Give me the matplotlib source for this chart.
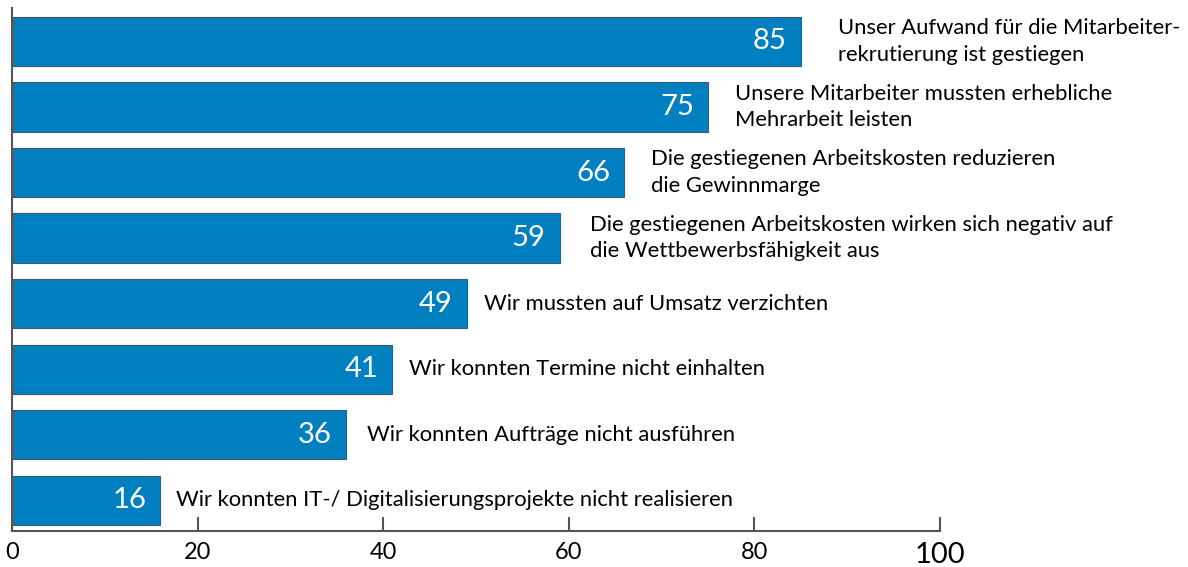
import matplotlib
matplotlib.use('Agg')
import matplotlib.pyplot as plt

# --- data ---
values = [85, 75, 66, 59, 49, 41, 36, 16]
labels = [
    'Unser Aufwand für die Mitarbeiter-\nrekrutierung ist gestiegen',
    'Unsere Mitarbeiter mussten erhebliche\nMehrarbeit leisten',
    'Die gestiegenen Arbeitskosten reduzieren\ndie Gewinnmarge',
    'Die gestiegenen Arbeitskosten wirken sich negativ auf\ndie Wettbewerbsfähigkeit aus',
    'Wir mussten auf Umsatz verzichten',
    'Wir konnten Termine nicht einhalten',
    'Wir konnten Aufträge nicht ausführen',
    'Wir konnten IT-/ Digitalisierungsprojekte nicht realisieren',
]
xticks = [0, 20, 40, 60, 80, 100]

# Abstand Balkenende -> Beschriftung (Pixel), wie im Original leicht unterschiedlich
label_gap = [37, 27, 27, 30, 17, 17, 21, 16]

plt.rcParams['font.family'] = ['Lato', 'DejaVu Sans']

fig = plt.figure(figsize=(11.88, 5.67), dpi=100)
ax = fig.add_axes([12 / 1188, 36 / 567, 928 / 1188, 523 / 567])

y = list(range(len(values)))
ax.barh(y, values, height=0.75, color='#0080c0', edgecolor='#3a5a70', linewidth=0.8)

for yi, v, lab, gap in zip(y, values, labels, label_gap):
    ax.annotate(str(v), (v, yi), xytext=(-14, 0), textcoords='offset pixels',
                ha='right', va='center', color='white', fontsize=21)
    ax.annotate(lab, (v, yi), xytext=(gap, 0), textcoords='offset pixels',
                ha='left', va='center', color='black', fontsize=15.8,
                linespacing=1.4)

ax.set_xlim(0, 100)
ax.set_ylim(7.47, -0.51)
ax.set_yticks([])
ax.set_xticks(xticks)
ax.set_xticklabels([str(t) for t in xticks])
for t in ax.get_xticklabels():
    t.set_fontsize(17)
ax.get_xticklabels()[-1].set_fontsize(21)
ax.tick_params(axis='x', direction='in', length=10, width=1.5, color='#555555', pad=8)
ax.spines['top'].set_visible(False)
ax.spines['right'].set_visible(False)
for s in ('left', 'bottom'):
    ax.spines[s].set_color('#555555')
    ax.spines[s].set_linewidth(1.5)

fig.savefig('out.png', dpi=100)
